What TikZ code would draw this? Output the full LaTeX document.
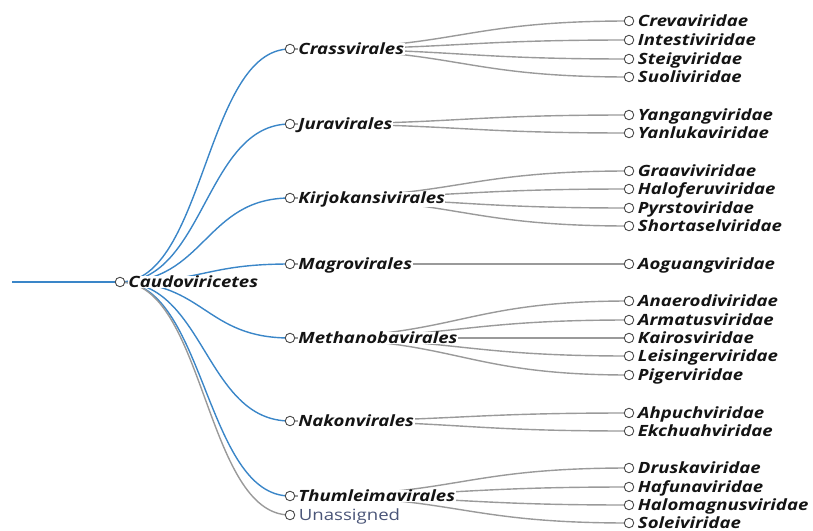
\documentclass[tikz,border=0pt]{standalone}
\usepackage{fontspec}
\setmainfont{Open Sans}[FakeStretch=1.2]
\usetikzlibrary{calc,backgrounds}

\definecolor{linkblue}{HTML}{3A86C8}
\definecolor{linkgray}{HTML}{9A9A9A}
\definecolor{ringgray}{HTML}{4A4A4A}
\definecolor{labelink}{HTML}{141414}
\definecolor{slate}{HTML}{4A5578}

\tikzset{
  dot/.style={circle, draw=ringgray, fill=white, line width=0.9pt, minimum size=9.5pt, inner sep=0pt},
  leaf/.style={anchor=base west, inner sep=1pt, text=labelink,
               font=\fontsize{15.5}{15.5}\selectfont\bfseries\itshape},
  % inner labels sit on a tight white backing so the links fade out behind them
  taxon/.style={leaf, fill=white, inner xsep=0.5pt, inner ysep=0pt},
  plain/.style={anchor=base west, inner sep=1pt, text=slate,
                font=\fontsize{15.5}{15.5}\selectfont},
  bluelink/.style={draw=linkblue, line width=1.4pt},
  graylink/.style={draw=linkgray, line width=1.4pt},
}

% horizontal S-shaped link from one node centre to another
\newcommand{\treelink}[3]{%
  \path ($(#1.center)!0.5!(#2.center)$) coordinate (mid);
  \draw[#3] (#1.center) .. controls (mid |- #1.center) and (mid |- #2.center) .. (#2.center);
}

% a dot with its label: name, x, y, text, label style
\newcommand{\taxonat}[5]{%
  \node[dot] (#1) at (#2,#3) {};
  \node[#5] (#1-t) at ([xshift=2.5pt,yshift=-5.5pt]#1.east) {#4};
}

\begin{document}
\begin{tikzpicture}[x=1pt,y=-1pt]
\useasboundingbox (0,0) rectangle (813,530);

\coordinate (start) at (12,282);
\taxonat{root}{120}{282}{Caudoviricetes}{taxon}

% orders
\taxonat{cras}{290}{49}{Crassvirales}{taxon}
\taxonat{jura}{290}{124}{Juravirales}{taxon}
\taxonat{kirj}{290}{198}{Kirjokansivirales}{taxon}
\taxonat{magr}{290}{264}{Magrovirales}{taxon}
\taxonat{meth}{290}{338}{Methanobavirales}{taxon}
\taxonat{nako}{290}{421}{Nakonvirales}{taxon}
\taxonat{thum}{290}{496}{Thumleimavirales}{taxon}
\taxonat{unas}{290}{515}{Unassigned}{plain}

% families
\taxonat{crev}{629}{21}{Crevaviridae}{leaf}
\taxonat{inte}{629}{40}{Intestiviridae}{leaf}
\taxonat{stei}{629}{59}{Steigviridae}{leaf}
\taxonat{suol}{629}{77}{Suoliviridae}{leaf}
\taxonat{yang}{629}{115}{Yangangviridae}{leaf}
\taxonat{yanl}{629}{133}{Yanlukaviridae}{leaf}
\taxonat{graa}{629}{171}{Graaviviridae}{leaf}
\taxonat{half}{629}{189}{Haloferuviridae}{leaf}
\taxonat{pyrs}{629}{208}{Pyrstoviridae}{leaf}
\taxonat{shor}{629}{226}{Shortaselviridae}{leaf}
\taxonat{aogu}{629}{264}{Aoguangviridae}{leaf}
\taxonat{anae}{629}{301}{Anaerodiviridae}{leaf}
\taxonat{arma}{629}{320}{Armatusviridae}{leaf}
\taxonat{kair}{629}{338}{Kairosviridae}{leaf}
\taxonat{leis}{629}{356}{Leisingerviridae}{leaf}
\taxonat{pige}{629}{375}{Pigerviridae}{leaf}
\taxonat{ahpu}{629}{413}{Ahpuchviridae}{leaf}
\taxonat{ekch}{629}{431}{Ekchuahviridae}{leaf}
\taxonat{drus}{629}{468}{Druskaviridae}{leaf}
\taxonat{hafu}{629}{487}{Hafunaviridae}{leaf}
\taxonat{halm}{629}{505}{Halomagnusviridae}{leaf}
\taxonat{sole}{629}{523}{Soleiviridae}{leaf}

\begin{pgfonlayer}{background}
  \draw[bluelink] (start) -- (root.center);
  % class to orders
  \treelink{root}{cras}{bluelink}
  \treelink{root}{jura}{bluelink}
  \treelink{root}{kirj}{bluelink}
  \treelink{root}{magr}{bluelink}
  \treelink{root}{meth}{bluelink}
  \treelink{root}{nako}{bluelink}
  \treelink{root}{thum}{bluelink}
  \treelink{root}{unas}{graylink}
  % orders to families
  \treelink{cras}{crev}{graylink}
  \treelink{cras}{inte}{graylink}
  \treelink{cras}{stei}{graylink}
  \treelink{cras}{suol}{graylink}
  \treelink{jura}{yang}{graylink}
  \treelink{jura}{yanl}{graylink}
  \treelink{kirj}{graa}{graylink}
  \treelink{kirj}{half}{graylink}
  \treelink{kirj}{pyrs}{graylink}
  \treelink{kirj}{shor}{graylink}
  \treelink{magr}{aogu}{graylink}
  \treelink{meth}{anae}{graylink}
  \treelink{meth}{arma}{graylink}
  \treelink{meth}{kair}{graylink}
  \treelink{meth}{leis}{graylink}
  \treelink{meth}{pige}{graylink}
  \treelink{nako}{ahpu}{graylink}
  \treelink{nako}{ekch}{graylink}
  \treelink{thum}{drus}{graylink}
  \treelink{thum}{hafu}{graylink}
  \treelink{thum}{halm}{graylink}
  \treelink{thum}{sole}{graylink}
\end{pgfonlayer}
\end{tikzpicture}
\end{document}
